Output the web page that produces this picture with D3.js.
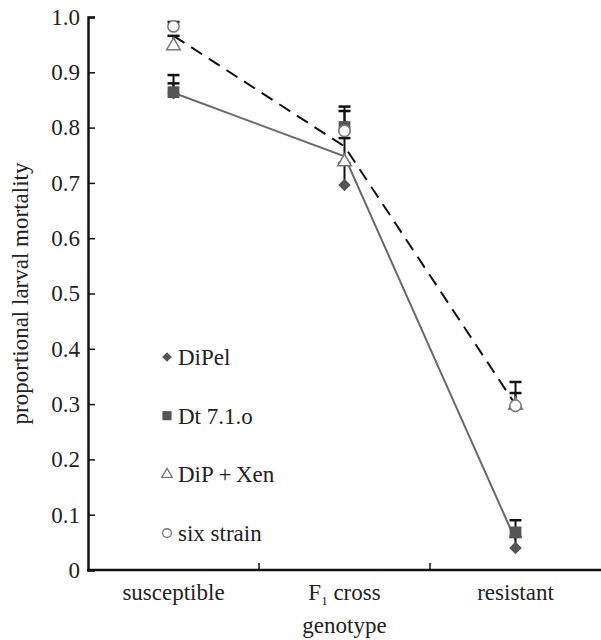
<!DOCTYPE html>
<html>
<head>
<meta charset="utf-8">
<script src="https://cdn.jsdelivr.net/npm/d3@7"></script>
<style>
  body { margin: 0; background: #fff; }
  svg text { font-family: "Liberation Serif", "Times New Roman", Times, "DejaVu Serif", serif; fill: #222; }
</style>
</head>
<body>
<div id="chart"></div>
<script>
// chart size, matches the reference window
const FRAME_WIDTH = 601;
const FRAME_HEIGHT = 640;
const MARGINS = {left: 88, right: 0, top: 17, bottom: 70};
const SERIF = "'Liberation Serif', 'Times New Roman', Times, serif";
const FONT = "23px";

// data
const genotypes = ["susceptible", "F1 cross", "resistant"];
const dipel = [0.862, 0.696, 0.040];
const dipelErr = [0.880, 0.736, 0.060];
const dt71o = [0.864, 0.801, 0.068];
const dt71oErr = [0.895, 0.838, 0.090];
const dipXen = [0.948, 0.738, 0.298];
const dipXenErr = [0.966, 0.781, 0.320];
const sixStrain = [0.983, 0.794, 0.297];
const sixStrainErr = [0.991, 0.830, 0.340];
// the two connecting lines
const solidLine = [0.863, 0.748, 0.054];
const dashedLine = [0.966, 0.766, 0.299];
const yTicks = [0, 0.1, 0.2, 0.3, 0.4, 0.5, 0.6, 0.7, 0.8, 0.9, 1.0];

const series = [
  {name: "DiPel", vals: dipel, err: dipelErr, shape: d3.symbolDiamond2, size: 100, fill: "#555", stroke: "none"},
  {name: "Dt 7.1.o", vals: dt71o, err: dt71oErr, shape: d3.symbolSquare, size: 140, fill: "#555", stroke: "none"},
  {name: "DiP\u2009+\u2009Xen", vals: dipXen, err: dipXenErr, shape: d3.symbolTriangle, size: 80, fill: "#fff", stroke: "#777"},
  {name: "six strain", vals: sixStrain, err: sixStrainErr, shape: d3.symbolCircle, size: 100, fill: "#fff", stroke: "#777"}
];

const VIS_WIDTH = FRAME_WIDTH - MARGINS.left - MARGINS.right;
const VIS_HEIGHT = FRAME_HEIGHT - MARGINS.top - MARGINS.bottom;

const svg = d3.select("#chart")
  .append("svg")
  .attr("width", FRAME_WIDTH)
  .attr("height", FRAME_HEIGHT)
  .attr("font-family", SERIF);

const X_SCALE = d3.scaleBand()
  .domain(genotypes)
  .range([MARGINS.left, MARGINS.left + VIS_WIDTH])
  .padding(0);

const Y_SCALE = d3.scaleLinear()
  .domain([0, 1])
  .range([MARGINS.top + VIS_HEIGHT, MARGINS.top]);

const cx = (i) => X_SCALE(genotypes[i]) + X_SCALE.bandwidth() / 2;

// lines first, markers sit on top
const lineGen = d3.line()
  .x((d, i) => cx(i))
  .y((d) => Y_SCALE(d));

svg.append("path")
  .datum(solidLine)
  .attr("d", lineGen)
  .attr("fill", "none")
  .attr("stroke", "#6a6a6a")
  .attr("stroke-width", 2);

svg.append("path")
  .datum(dashedLine)
  .attr("d", lineGen)
  .attr("fill", "none")
  .attr("stroke", "#111")
  .attr("stroke-width", 2)
  .attr("stroke-dasharray", "13,8");

// error bars (upper only, with cap)
series.forEach((s) => {
  const g = svg.append("g");
  s.vals.forEach((v, i) => {
    g.append("line")
      .attr("x1", cx(i)).attr("x2", cx(i))
      .attr("y1", Y_SCALE(v)).attr("y2", Y_SCALE(s.err[i]))
      .attr("stroke", "#111").attr("stroke-width", 2);
    g.append("line")
      .attr("x1", cx(i) - 6).attr("x2", cx(i) + 6)
      .attr("y1", Y_SCALE(s.err[i])).attr("y2", Y_SCALE(s.err[i]))
      .attr("stroke", "#111").attr("stroke-width", 2.5);
  });
});

// markers
series.forEach((s) => {
  svg.append("g")
    .selectAll("path")
    .data(s.vals)
    .enter()
    .append("path")
      .attr("d", d3.symbol().type(s.shape).size(s.size))
      .attr("transform", (d, i) => "translate(" + cx(i) + "," + Y_SCALE(d) + ")")
      .attr("fill", s.fill)
      .attr("stroke", s.stroke)
      .attr("stroke-width", 1.5);
});

// y axis, ticks point inward
const yAxis = svg.append("g")
  .attr("transform", "translate(" + MARGINS.left + ",0)")
  .call(d3.axisRight(Y_SCALE).tickValues(yTicks).tickSize(7)
        .tickFormat((d) => d === 0 ? "0" : d3.format(".1f")(d)));
yAxis.attr("font-family", SERIF);
yAxis.select(".domain").attr("stroke", "#111").attr("stroke-width", 2.5);
yAxis.selectAll(".tick line").attr("stroke", "#111").attr("stroke-width", 1.5);
yAxis.selectAll(".tick text")
  .attr("x", -8)
  .attr("text-anchor", "end")
  .attr("font-size", FONT)
  .attr("fill", "#222");

// x axis: line plus tick marks between categories
const xBase = MARGINS.top + VIS_HEIGHT;
svg.append("line")
  .attr("x1", MARGINS.left - 1).attr("x2", FRAME_WIDTH)
  .attr("y1", xBase).attr("y2", xBase)
  .attr("stroke", "#111").attr("stroke-width", 2.5);
svg.selectAll("xticks")
  .data(genotypes.slice(1))
  .enter()
  .append("line")
    .attr("x1", (d) => X_SCALE(d)).attr("x2", (d) => X_SCALE(d))
    .attr("y1", xBase).attr("y2", xBase - 7)
    .attr("stroke", "#111").attr("stroke-width", 1.5);

// category labels (F1 gets a subscript)
genotypes.forEach((g, i) => {
  const t = svg.append("text")
    .attr("x", cx(i))
    .attr("y", xBase + 30)
    .attr("text-anchor", "middle")
    .attr("font-size", FONT);
  if (g === "F1 cross") {
    t.append("tspan").text("F");
    t.append("tspan").text("1").attr("font-size", "13px").attr("dy", 5);
    t.append("tspan").text(" cross").attr("dy", -5);
  } else {
    t.text(g);
  }
});

svg.append("text")
  .attr("x", cx(1))
  .attr("y", xBase + 63)
  .attr("text-anchor", "middle")
  .attr("font-size", FONT)
  .text("genotype");

svg.append("text")
  .attr("transform", "translate(28," + (MARGINS.top + VIS_HEIGHT / 2) + ") rotate(-90)")
  .attr("text-anchor", "middle")
  .attr("font-size", FONT)
  .text("proportional larval mortality");

// legend
const legend = svg.append("g").attr("transform", "translate(167,357)");
series.forEach((s, i) => {
  const row = legend.append("g").attr("transform", "translate(0," + (i * 58.7) + ")");
  row.append("path")
    .attr("d", d3.symbol().type(s.shape).size(s.size * 0.6))
    .attr("fill", s.fill)
    .attr("stroke", s.stroke)
    .attr("stroke-width", 1.3);
  row.append("text")
    .attr("x", 11)
    .attr("y", 8)
    .attr("font-size", FONT)
    .text(s.name);
});
</script>
</body>
</html>
